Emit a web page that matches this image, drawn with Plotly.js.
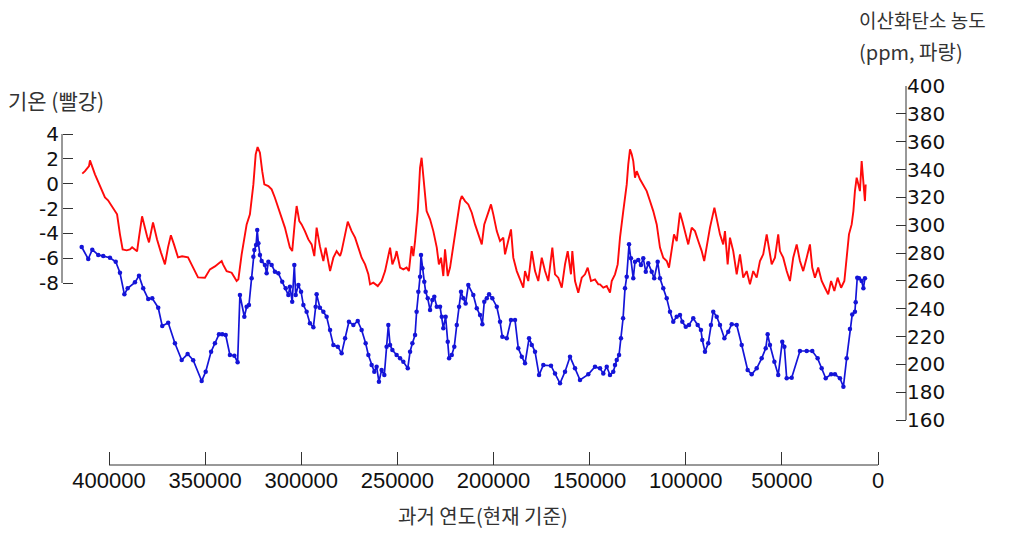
<!DOCTYPE html>
<html>
<head>
<meta charset="utf-8">
<script src="https://cdn.plot.ly/plotly-3.0.1.min.js"></script>
<style>
html,body{margin:0;padding:0;background:#fff;}
#chart{width:1017px;height:533px;}
</style>
</head>
<body>
<div id="chart"></div>
<script>
// Temperature (red), years before present
const tempYears = [
413900,412500,410400,409900,407300,404700,402100,400500,397900,395800,
394300,392900,390800,389100,388000,385400,384400,382800,380200,379200,
377100,375000,373000,370900,369300,367800,366200,364100,362000,358900,
356300,353700,350100,347500,344900,343200,341400,340700,338800,336200,
333600,332700,331000,328400,326700,324900,323700,322700,321500,320300,
319200,317100,315400,313700,311100,308500,305900,304700,303300,302400,
301000,299800,298100,296300,294600,293200,292000,290300,288500,287300,
285000,283300,281600,279800,279000,277200,275800,273800,272000,270300,
268600,266800,265100,264200,262500,260200,258200,256400,254700,253800,
252600,251200,250400,248600,246900,245200,244000,242600,241700,240800,
239400,238200,237400,236500,234800,233000,231300,229500,228400,227300,
226100,225200,223800,222600,220900,219100,217400,216500,214800,213100,
211300,209600,207900,206100,204800,202700,201300,200100,198300,196600,
194900,194000,192300,190900,189700,187900,186200,184500,183600,181900,
180100,178400,176700,174900,173200,171500,169400,168000,166300,164500,
162800,161400,159700,159000,157600,155900,154100,152400,151000,149300,
147200,145500,144600,142900,141100,139400,138500,136800,135400,134200,
132500,130700,129900,129000,128100,127300,126400,125500,123800,122100,
120300,118600,116900,115100,113400,111700,109900,108700,107300,106100,
104700,103000,101800,100400,98700,96900,95200,93500,91700,90400,
89100,87400,85100,83900,82200,80500,79600,78200,77000,
75300,73500,71800,70100,68300,66600,64900,63100,61400,59700,
57900,56500,55300,53600,51900,51000,49300,47500,45800,44100,
42300,40600,38900,37100,35400,34200,32800,31100,29300,27600,
25900,24400,22700,21000,19200,17500,16300,15100,13700,12800,
12000,11100,10200,9400,8500,7600,6800,6400];
const tempValues = [
0.81,1.01,1.42,1.88,0.75,-0.22,-1.10,-1.34,-1.91,-2.47,
-4.08,-5.29,-5.37,-5.29,-5.13,-5.45,-4.32,-2.63,-4.24,-4.73,
-3.12,-4.49,-5.53,-6.50,-5.13,-4.16,-4.89,-5.94,-5.85,-5.94,
-6.74,-7.55,-7.57,-6.90,-6.66,-6.44,-6.23,-6.50,-7.04,-7.17,
-7.84,-7.71,-5.69,-3.28,-2.47,-0.06,2.36,2.95,2.50,1.01,
-0.06,-0.19,-0.46,-1.13,-2.34,-3.54,-5.15,-5.43,-3.01,-1.80,
-3.01,-3.28,-3.82,-4.49,-4.89,-5.83,-3.54,-5.03,-6.23,-5.15,
-7.04,-5.96,-5.43,-5.83,-5.43,-4.08,-3.06,-3.82,-4.35,-5.15,
-5.96,-6.50,-7.30,-8.11,-7.97,-8.25,-7.84,-7.04,-5.96,-5.15,
-6.50,-5.96,-5.43,-6.76,-6.90,-6.76,-7.04,-5.03,-5.83,-4.62,
-2.21,1.29,2.09,0.75,-2.21,-2.87,-3.82,-5.15,-6.50,-5.96,
-7.44,-5.29,-7.44,-6.76,-4.89,-3.28,-1.40,-1.00,-1.40,-1.67,
-2.34,-3.28,-4.08,-4.89,-3.28,-2.21,-1.67,-2.47,-3.82,-4.62,
-4.35,-5.69,-4.62,-3.68,-5.96,-7.04,-7.71,-8.38,-7.04,-7.84,
-5.43,-7.04,-7.84,-5.96,-7.04,-7.84,-5.15,-7.30,-7.57,-8.38,
-6.50,-5.43,-7.30,-5.43,-7.84,-8.78,-7.57,-7.30,-6.76,-7.84,
-7.71,-8.11,-8.11,-8.38,-8.25,-8.78,-7.84,-7.30,-6.50,-4.35,
-2.21,-0.06,1.55,2.76,2.36,1.82,0.48,1.01,0.35,-0.06,
-0.60,-1.40,-2.21,-3.28,-5.15,-5.96,-6.23,-6.76,-5.43,-4.08,
-4.62,-2.34,-3.01,-3.82,-4.89,-3.54,-3.82,-4.62,-5.43,-6.23,
-4.89,-3.54,-1.93,-2.74,-4.08,-4.89,-3.82,-6.50,-4.35,
-5.43,-7.30,-5.69,-7.57,-7.04,-8.11,-7.04,-7.57,-6.23,-5.69,
-4.08,-5.43,-6.50,-5.96,-4.08,-5.43,-5.96,-7.04,-7.84,-5.96,
-4.89,-6.23,-7.04,-5.96,-4.89,-6.76,-7.57,-6.76,-7.84,-8.38,
-8.91,-7.84,-8.65,-7.57,-8.38,-7.84,-5.96,-4.08,-3.28,-2.21,
-0.60,0.48,-0.06,-0.60,1.82,-0.32,-1.40,-0.06];

// CO2 (blue, ppm), years before present
const co2Years = [
414200,410800,408700,405600,403000,399500,396500,394300,392000,390300,
386500,384400,382200,379600,377500,374400,372300,369200,365700,362200,
359100,356200,351800,349700,346900,344900,342800,341100,339300,337100,
334800,333100,331900,329600,328400,327200,325800,324900,324400,323500,
322900,322300,321500,320600,318900,318000,317100,315400,313700,311900,
309900,308100,306700,305900,304700,303600,302900,301500,300100,298900,
297200,295500,293700,292500,292000,290300,288500,286800,285000,283300,
281000,279000,277200,275200,272900,270600,268600,266500,265100,263400,
262000,260800,259600,258200,256800,255600,254700,253800,252600,250400,
248600,246900,244600,243400,242200,240800,240000,239100,238200,237700,
237000,236000,235300,234200,233000,231800,230800,229500,227800,226900,
226100,224900,223800,223100,221700,220400,219100,217900,216900,215700,
214500,213100,210500,208700,207000,205800,204800,203500,202300,200600,
198300,196600,195400,193100,190900,188800,187100,185300,183600,181500,
180100,178400,176300,174100,170100,168000,165400,162800,160200,157600,
155000,150700,147200,144600,142900,141100,139400,137700,136800,135900,
134700,133700,132600,131600,130700,129500,128500,127300,126400,124700,
123300,122100,120800,119500,117700,116400,114600,113400,111700,109900,
108200,106500,104700,103000,101800,100000,98300,96100,93800,92100,
91400,90000,88300,86900,85700,83900,82200,79900,77900,76100,
73500,70900,67800,65700,63100,60500,58400,57400,56200,53900,
51900,49800,48700,47500,44900,40600,37100,34200,31400,29300,
27200,24400,22400,19800,18000,16300,14600,13400,12000,11600,
10800,9900,8500,7600,6800];
const co2Values = [
284.3,275.7,282.4,278.6,277.8,276.6,273.7,265.8,250.3,254.6,
258.9,263.7,254.6,246.9,247.4,240.7,227.5,229.9,215.1,203.1,
207.4,202.9,188.0,194.7,209.1,215.1,221.6,221.6,221.1,206.7,
206.2,201.5,249.8,234.2,241.4,242.6,261.8,277.3,282.1,285.7,
296.5,287.0,278.6,274.2,271.4,265.4,273.7,271.4,266.6,265.4,
259.4,254.6,249.8,255.8,245.0,271.4,249.8,257.0,252.2,242.6,
237.8,229.5,226.6,241.4,250.3,240.7,237.8,234.2,224.7,213.9,
212.7,207.9,218.7,230.6,228.3,231.1,224.7,215.1,206.7,199.5,
194.7,198.3,187.5,195.9,192.3,212.7,228.3,213.9,210.3,206.7,
204.3,201.9,197.1,209.1,215.1,221.1,237.8,252.2,263.0,278.6,
269.0,259.4,252.2,247.4,239.0,246.2,248.6,241.4,241.4,234.2,
225.9,234.2,216.3,204.3,206.7,212.7,228.3,241.4,252.2,247.4,
243.8,257.0,249.8,240.3,235.4,228.8,245.0,247.4,250.3,247.4,
241.4,230.6,219.8,218.7,231.8,231.8,211.5,205.5,200.7,218.7,
213.9,209.1,192.3,199.5,199.0,193.5,186.4,194.7,205.5,197.1,
188.7,192.8,198.3,197.1,193.5,198.3,192.3,194.7,199.5,203.1,
206.7,218.7,233.1,254.6,263.0,286.2,276.2,261.8,273.7,275.0,
271.4,276.2,266.6,272.6,266.6,261.8,273.7,261.8,254.6,247.4,
237.8,230.6,234.2,235.4,230.6,227.0,228.3,233.1,228.3,224.7,
217.5,209.1,215.1,228.3,237.8,234.2,228.3,218.7,223.4,228.8,
228.3,213.9,195.9,192.8,197.1,204.3,211.5,221.6,213.9,201.9,
192.3,216.3,212.7,190.0,190.4,209.6,209.6,209.6,204.3,197.1,
190.0,192.8,192.8,190.0,183.9,204.3,225.4,235.9,237.8,244.6,
262.2,261.8,259.9,254.6,261.8];

// Axis ticks
const yearTicks = [400000,350000,300000,250000,200000,150000,100000,50000,0];
const tempTicks = [-8,-6,-4,-2,0,2,4];
const tempTickText = ['-8','-6','-4','-2','0','2','4'];
const co2Ticks = [160,180,200,220,240,260,280,300,320,340,360,380,400];

const axisColor = '#333';
const tickFontY = {family: 'DejaVu Sans, Verdana, sans-serif', size: 20, color: '#111'};
const krFamily = 'Noto Sans CJK KR, sans-serif';

const traces = [
  {x: tempYears, y: tempValues, type: 'scatter', mode: 'lines',
   line: {color: '#ff0a0a', width: 1.9}, xaxis: 'x', yaxis: 'y', hoverinfo: 'skip'},
  {x: co2Years, y: co2Values, type: 'scatter', mode: 'lines+markers',
   line: {color: '#1414d8', width: 1.7}, marker: {color: '#1414d8', size: 4.5},
   xaxis: 'x', yaxis: 'y2', hoverinfo: 'skip'}
];

const layout = {
  width: 1017, height: 533,
  margin: {l: 62, r: 111, t: 86, b: 68},
  paper_bgcolor: '#fff', plot_bgcolor: '#fff',
  showlegend: false,
  xaxis: {
    range: [424447, -14564], domain: [0, 1], anchor: 'free', position: 0,
    showline: false, showgrid: false, zeroline: false,
    tickmode: 'array', tickvals: yearTicks, ticktext: yearTicks.map(String),
    ticks: 'inside', ticklen: 13, tickcolor: axisColor, tickwidth: 1,
    tickfont: {family: 'Liberation Sans, Arial, sans-serif', size: 22, color: '#111'}
  },
  yaxis: {
    range: [-22.657, 7.866], domain: [0, 1], anchor: 'free', position: 0, side: 'left',
    showline: false, showgrid: false, zeroline: false,
    tickmode: 'array', tickvals: tempTicks, ticktext: tempTickText,
    ticks: 'inside', ticklen: 10, tickcolor: axisColor, tickwidth: 1,
    ticklabelstandoff: 3,
    tickfont: tickFontY
  },
  yaxis2: {
    range: [127.67, 400], domain: [0, 1], anchor: 'free', position: 1, side: 'right',
    overlaying: 'y',
    showline: false, showgrid: false, zeroline: false,
    tickmode: 'array', tickvals: co2Ticks,
    ticks: 'inside', ticklen: 10, tickcolor: axisColor, tickwidth: 1,
    tickfont: tickFontY
  },
  shapes: [
    {type: 'line', xref: 'x', yref: 'paper', x0: yearTicks[0], x1: yearTicks[yearTicks.length-1], y0: 0, y1: 0,
     line: {color: axisColor, width: 1}},
    {type: 'line', xref: 'paper', yref: 'y', x0: 0, x1: 0, y0: tempTicks[0], y1: tempTicks[tempTicks.length-1],
     line: {color: axisColor, width: 1}},
    {type: 'line', xref: 'paper', yref: 'y2', x0: 1, x1: 1, y0: co2Ticks[0], y1: co2Ticks[co2Ticks.length-1],
     line: {color: axisColor, width: 1}}
  ],
  annotations: [
    {text: '기온 (빨강)', xref: 'paper', yref: 'paper', x: -0.066, y: 0.963,
     xanchor: 'left', yanchor: 'middle', showarrow: false, font: {family: krFamily, size: 21, color: '#333'}},
    {text: '이산화탄소 농도', xref: 'paper', yref: 'paper', x: 0.942, y: 1.176,
     xanchor: 'left', yanchor: 'middle', showarrow: false, font: {family: krFamily, size: 19, color: '#333'}},
    {text: '(ppm, 파랑)', xref: 'paper', yref: 'paper', x: 0.942, y: 1.090,
     xanchor: 'left', yanchor: 'middle', showarrow: false, font: {family: krFamily, size: 20, color: '#333'}},
    {text: '과거 연도(현재 기준)', xref: 'paper', yref: 'paper', x: 0.499, y: -0.134,
     xanchor: 'center', yanchor: 'middle', showarrow: false, font: {family: krFamily, size: 20, color: '#333'}}
  ]
};

Plotly.newPlot('chart', traces, layout, {staticPlot: true, displayModeBar: false});
</script>
</body>
</html>
